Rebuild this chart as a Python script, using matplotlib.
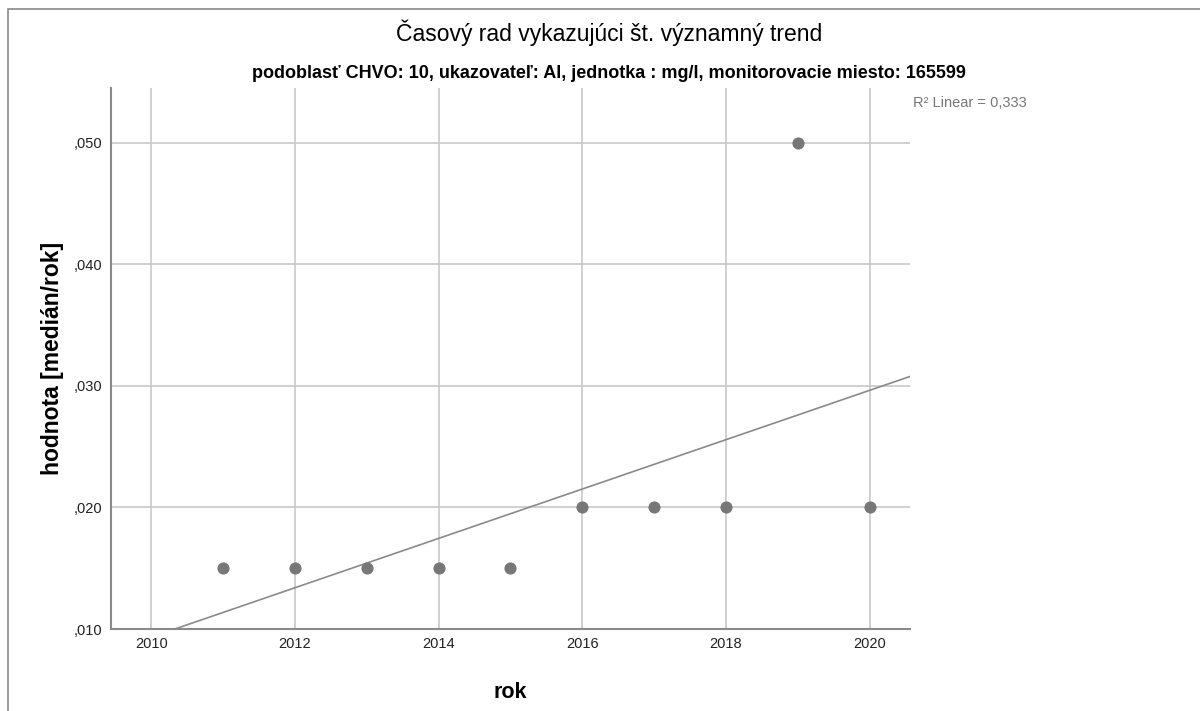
import numpy as np
import matplotlib
matplotlib.use('Agg')
import matplotlib.pyplot as plt
from matplotlib.patches import Rectangle
from matplotlib.ticker import FuncFormatter

# Datos
roky = [2011, 2012, 2013, 2014, 2015, 2016, 2017, 2018, 2019, 2020]
hodnoty = [0.015, 0.015, 0.015, 0.015, 0.015, 0.020, 0.020, 0.020, 0.050, 0.020]
x_ticks = [2010, 2012, 2014, 2016, 2018, 2020]
y_ticks = [0.010, 0.020, 0.030, 0.040, 0.050]
r2_text = "R² Linear = 0,333"

plt.rcParams['font.family'] = ['Liberation Sans', 'DejaVu Sans']

fig = plt.figure(figsize=(12, 7.11), dpi=100)
ax = fig.add_axes([0.0925, 0.1153, 0.6658, 0.7609])

# ramcek okolo grafu
fig.patches.append(Rectangle((8 / 1200, -0.1), 1.2, (711 - 9) / 711 + 0.1,
                             transform=fig.transFigure, fill=False,
                             edgecolor='#8a8a8a', linewidth=1.2))

ax.set_xlim(2009.44, 2020.56)
ax.set_ylim(0.010, 0.0545)
ax.set_xticks(x_ticks)
ax.set_yticks(y_ticks)
ax.yaxis.set_major_formatter(
    FuncFormatter(lambda v, p: ('%.3f' % v).lstrip('0').replace('.', ',')))
ax.grid(True, color='#c8c8c8', linewidth=1.2)
ax.set_axisbelow(True)
ax.tick_params(length=0, labelsize=10.5, colors='#222222')
ax.tick_params(axis='y', pad=6)
ax.tick_params(axis='x', pad=6)
for s in ['top', 'right']:
    ax.spines[s].set_visible(False)
for s in ['left', 'bottom']:
    ax.spines[s].set_color('#8a8a8a')
    ax.spines[s].set_linewidth(1.5)

# linearny trend
k, q = np.polyfit(roky, hodnoty, 1)
xl = np.array(ax.get_xlim())
ax.plot(xl, k * xl + q, color='#8a8a8a', linewidth=1.2, zorder=2)

ax.scatter(roky, hodnoty, s=60, color='#777777', zorder=3, clip_on=False)

ax.set_xlabel('rok', fontsize=15.5, fontweight='bold', labelpad=22)
ax.set_ylabel('hodnota [medián/rok]', fontsize=16.5, fontweight='bold', labelpad=7)

fig.text(609 / 1200, 1 - 33 / 711, 'Časový rad vykazujúci št. významný trend',
         ha='center', va='center', fontsize=16.5, fontweight='medium')
fig.text(609 / 1200, 1 - 73 / 711,
         "podoblasť CHVO: 10, ukazovateľ: Al, jednotka : mg/l, monitorovacie miesto: 165599",
         ha='center', va='center', fontsize=13, fontweight='bold')
fig.text(913 / 1200, 1 - 103 / 711, r2_text, ha='left', va='center',
         fontsize=10.5, color='#777777')

fig.savefig('out.png', dpi=100)
